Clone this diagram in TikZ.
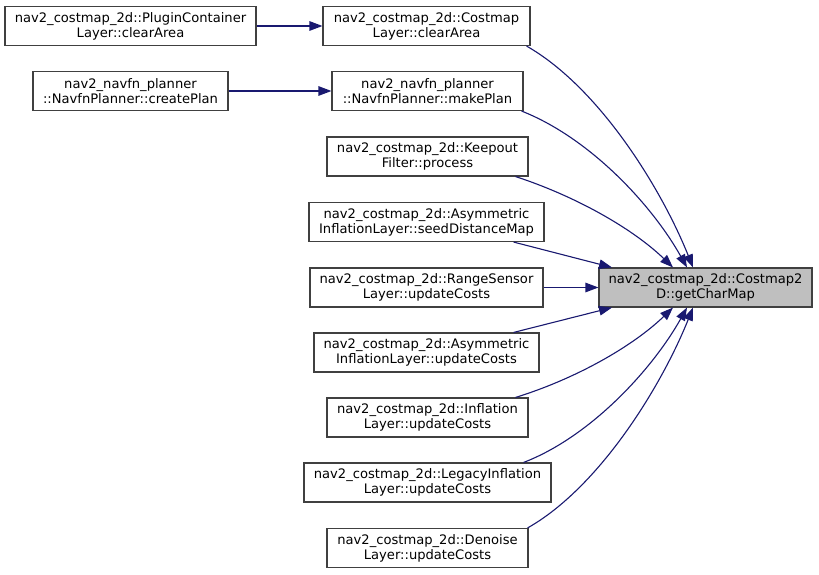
\documentclass[tikz,border=0pt]{standalone}
\usepackage{fontspec}
\setmainfont{DejaVu Sans}
\usetikzlibrary{arrows.meta,calc}
\definecolor{edgeblue}{HTML}{191970}
\definecolor{boxgray}{HTML}{404040}
\definecolor{targetfill}{HTML}{BFBFBF}
\begin{document}
\begin{tikzpicture}[x=1pt,y=-1pt,
  fn/.style={draw=boxgray,line width=1.1pt,fill=white,inner sep=0pt,minimum height=39pt,align=center,
    font=\fontsize{13.1}{15}\selectfont},
  target/.style={fn,fill=targetfill},
  edge/.style={draw=edgeblue,line width=1.1pt,-{Triangle[length=13pt,width=9.5pt]}}]
\useasboundingbox (0,0) rectangle (819,575);
\fill[white] (0,0) rectangle (819,575);
\node[fn,minimum width=251pt] (n1) at (130.5,26) {nav2\_costmap\_2d::PluginContainer\\Layer::clearArea};
\node[fn,minimum width=207pt] (n2) at (426.5,26) {nav2\_costmap\_2d::Costmap\\Layer::clearArea};
\node[fn,minimum width=195pt] (n3) at (130.5,91) {nav2\_navfn\_planner\\::NavfnPlanner::createPlan};
\node[fn,minimum width=191pt] (n4) at (427.5,91) {nav2\_navfn\_planner\\::NavfnPlanner::makePlan};
\node[fn,minimum width=201pt] (n5) at (427.5,156.5) {nav2\_costmap\_2d::Keepout\\Filter::process};
\node[fn,minimum width=235pt] (n6) at (426.5,222) {nav2\_costmap\_2d::Asymmetric\\InflationLayer::seedDistanceMap};
\node[fn,minimum width=233pt] (n7) at (426.5,287.5) {nav2\_costmap\_2d::RangeSensor\\Layer::updateCosts};
\node[fn,minimum width=225pt] (n8) at (426.5,352.5) {nav2\_costmap\_2d::Asymmetric\\InflationLayer::updateCosts};
\node[fn,minimum width=201pt] (n9) at (427.5,417.5) {nav2\_costmap\_2d::Inflation\\Layer::updateCosts};
\node[fn,minimum width=247pt] (n10) at (427.5,482.5) {nav2\_costmap\_2d::LegacyInflation\\Layer::updateCosts};
\node[fn,minimum width=201pt] (n11) at (427.5,548) {nav2\_costmap\_2d::Denoise\\Layer::updateCosts};
\node[target,minimum width=213pt] (t) at (705.5,287.5) {nav2\_costmap\_2d::Costmap2\\D::getCharMap};

\draw[edge] (n1.east) -- (n2.west);
\draw[edge] (n3.east) -- (n4.west);
\draw[edge] ([xshift=-4pt]n2.south east) .. controls (600,88) and (662,190) .. ([xshift=-12.5pt]t.north);
\draw[edge] ([xshift=-2pt]n4.south east) .. controls (590,138) and (652,205) .. ([xshift=-18.5pt]t.north);
\draw[edge] ([xshift=-13pt]n5.south east) .. controls (575,196) and (632,228) .. ([xshift=-32.5pt]t.north);
\draw[edge] ([xshift=-31pt]n6.south east) -- ([xshift=-93.5pt]t.north);
\draw[edge] (n7.east) -- (t.west);
\draw[edge] ([xshift=-26pt]n8.north east) -- ([xshift=-93.5pt]t.south);
\draw[edge] ([xshift=-13pt]n9.north east) .. controls (575,379) and (632,347) .. ([xshift=-32.5pt]t.south);
\draw[edge] ([xshift=-28pt]n10.north east) .. controls (590,437) and (652,370) .. ([xshift=-18.5pt]t.south);
\draw[edge] ([xshift=-1pt]n11.north east) .. controls (600,487) and (662,385) .. ([xshift=-12.5pt]t.south);
\end{tikzpicture}
\end{document}
